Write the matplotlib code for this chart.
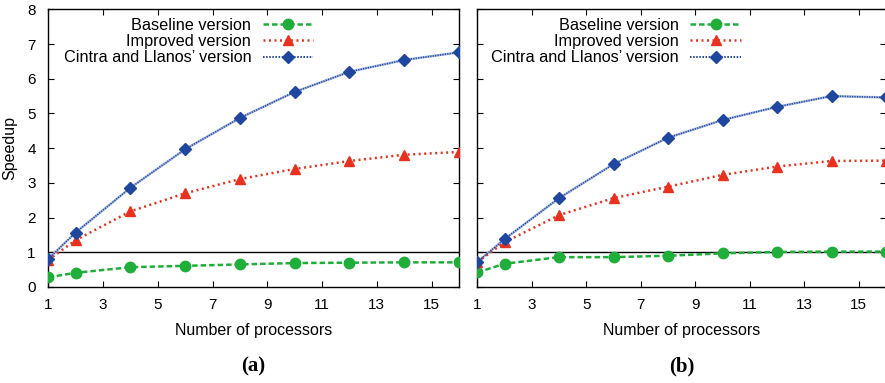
import matplotlib
matplotlib.use("Agg")
import matplotlib.pyplot as plt
from matplotlib.lines import Line2D

plt.rcParams['font.family'] = ['Liberation Sans', 'DejaVu Sans']

procs = [1, 2, 4, 6, 8, 10, 12, 14, 16]

# panel (a)
baseline_a = [0.28, 0.41, 0.57, 0.61, 0.65, 0.69, 0.70, 0.71, 0.71]
improved_a = [0.78, 1.35, 2.18, 2.70, 3.11, 3.40, 3.63, 3.81, 3.89]
cintra_a = [0.81, 1.57, 2.86, 3.97, 4.87, 5.62, 6.20, 6.54, 6.76]

# panel (b)
baseline_b = [0.42, 0.67, 0.86, 0.86, 0.90, 0.97, 1.01, 1.02, 1.02]
improved_b = [0.72, 1.29, 2.07, 2.56, 2.89, 3.23, 3.47, 3.63, 3.64]
cintra_b = [0.72, 1.38, 2.56, 3.54, 4.30, 4.81, 5.19, 5.50, 5.46]

labels = ["Baseline version", "Improved version", "Cintra and Llanos\u2019 version"]
xticks = [1, 3, 5, 7, 9, 11, 13, 15]
yticks = [0, 1, 2, 3, 4, 5, 6, 7, 8]
captions = ["(a)", "(b)"]

GREEN = "#1fae3a"
RED = "#e8321f"
BLUE = "#1f47a0"
LIGHTBLUE = "#a7b9e0"

W, H = 885, 383
fig = plt.figure(figsize=(W / 100, H / 100), dpi=100)

panels = [
    ((48.3, 459.0), baseline_a, improved_a, cintra_a),
    ((477.3, 886.0), baseline_b, improved_b, cintra_b),
]
top_px, bot_px = 9.3, 287.0

for i, ((lx, rx), base, imp, cin) in enumerate(panels):
    ax = fig.add_axes([lx / W, 1 - bot_px / H, (rx - lx) / W, (bot_px - top_px) / H])
    ax.axhline(1, color="black", lw=1.0, zorder=1)

    ax.plot(procs, base, color=GREEN, lw=1.8, ls=(0, (2.2, 1.2)),
            marker="o", ms=7.5, mec=GREEN, mfc=GREEN, zorder=3)
    ax.plot(procs, imp, color=RED, lw=1.8, ls=(0, (0.8, 1.4)),
            marker="^", ms=7.5, mec=RED, mfc=RED, zorder=3)
    ax.plot(procs, cin, color=LIGHTBLUE, lw=1.8, ls="-", zorder=2)
    ax.plot(procs, cin, color=BLUE, lw=1.1, ls=(0, (0.8, 0.8)),
            marker="D", ms=6.5, mec=BLUE, mfc=BLUE, zorder=4)

    ax.set_xlim(1, 16)
    ax.set_ylim(0, 8)
    ax.set_xticks(xticks)
    ax.set_yticks(yticks)
    ax.tick_params(direction="in", length=4.5, width=0.8, top=True, right=True,
                   labelsize=11)
    ax.tick_params(axis="x", pad=8)
    ax.tick_params(axis="y", pad=9)
    if i == 1:
        ax.set_yticklabels([])
    else:
        ax.set_ylabel("Speedup", fontsize=11.5, labelpad=7)
    ax.set_xlabel("Number of processors", fontsize=11.5, labelpad=8)
    for s in ax.spines.values():
        s.set_linewidth(1.0)

    handles = [
        Line2D([], [], color=GREEN, lw=1.8, ls=(0, (2.2, 1.2)), marker="o", ms=7.5),
        Line2D([], [], color=RED, lw=1.8, ls=(0, (0.8, 1.4)), marker="^", ms=7.5),
        Line2D([], [], color=BLUE, lw=1.4, ls=(0, (0.8, 0.8)), marker="D", ms=6.5),
    ]
    leg = ax.legend(handles, labels, loc="upper right",
                    bbox_to_anchor=((313 - 48.3) / (459 - 48.3), 1 - 8.5 / 277.7),
                    frameon=False, markerfirst=False, numpoints=1, fontsize=11.7,
                    handlelength=3.1, handletextpad=0.7, labelspacing=0.08,
                    borderpad=0, borderaxespad=0)
    for col in leg._legend_handle_box.get_children():
        col.align = "right"

    cx = (lx + rx) / 2 / W
    fig.text(cx, 1 - 366 / H, captions[i], ha="center", va="center",
             fontsize=15, fontweight="bold", family="Liberation Serif")

fig.savefig("out.png", dpi=100)
